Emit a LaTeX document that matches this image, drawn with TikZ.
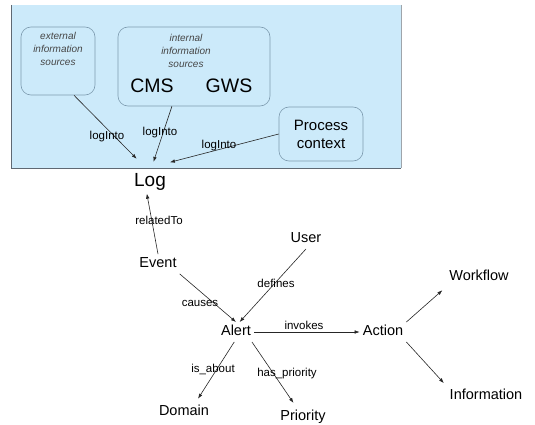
\documentclass[tikz,border=0pt]{standalone}
\usepackage{fontspec}
\setmainfont{Liberation Sans}
\usetikzlibrary{arrows.meta}
\definecolor{panelfill}{RGB}{204,234,250}
\definecolor{boxline}{RGB}{125,155,175}
\definecolor{panelframe}{RGB}{95,105,115}
\definecolor{notegray}{RGB}{70,70,70}
\tikzset{
  srcbox/.style={draw=boxline, rounded corners=10pt, line width=0.6pt, inner sep=0pt},
  term/.style={font=\fontsize{14.5}{17}\selectfont, text height=10.5pt, text depth=3pt, inner sep=3pt},
  rel/.style={font=\fontsize{11.5}{13}\selectfont, inner sep=0pt},
  srcnote/.style={font=\fontsize{10}{13}\selectfont\itshape, text=notegray, align=center, inner sep=0pt},
  link/.style={draw=black!85, line width=0.6pt, -{Latex[length=5pt,width=3.6pt]}},
}
\begin{document}
\begin{tikzpicture}[x=1pt,y=-1pt]
\useasboundingbox (0,0) rectangle (535,425);

% information sources panel
\fill[panelfill] (11,5) rectangle (401,168);
\draw[panelframe, line width=0.8pt] (11,5) -- (11,168) -- (401,168);
\draw[panelframe!60, line width=0.6pt] (401,5) -- (401,168);

\node[srcbox, minimum width=74pt, minimum height=68pt] (ext) at (58,61) {};
\node[srcnote] (extnote) at (58,48.5) {external\\information\\sources};

\node[srcbox, minimum width=152pt, minimum height=79pt] (int) at (194,66.5) {};
\node[srcnote] (intnote) at (186,50.5) {internal\\information\\sources};
\node[font=\fontsize{19.5}{22}\selectfont, inner sep=0pt] (cms) at (152,86) {CMS};
\node[font=\fontsize{19.5}{22}\selectfont, inner sep=0pt] (gws) at (229,86) {GWS};

\node[srcbox, minimum width=84pt, minimum height=54pt, align=center,
      font=\fontsize{15}{18}\selectfont] (proc) at (321,134) {Process\\context};

% concepts
\node[font=\fontsize{19}{22}\selectfont, text height=14pt, text depth=4pt, inner sep=0pt] (log) at (150,181.5) {Log};
\node[term] (event) at (158,264) {Event};
\node[term] (user) at (306,239) {User};
\node[term] (alert) at (236,332) {Alert};
\node[term] (action) at (383,332) {Action};
\node[term] (workflow) at (479,277) {Workflow};
\node[term] (info) at (486,396) {Information};
\node[term] (domain) at (184,412) {Domain};
\node[term] (priority) at (303,417) {Priority};

% relations into the log
\draw[link, shorten >=19pt] (ext.-65) -- (log.north);
\draw[link, shorten >=11pt] (int.-119) -- (log.north);
\draw[link, shorten >=4pt] (proc.west) -- ([yshift=9pt]log.north east);
\node[rel] (lab-ext) at (107,137) {logInto};
\node[rel] (lab-int) at (160,133) {logInto};
\node[rel] (lab-proc) at (219,146) {logInto};

% relations between concepts
\draw[link, shorten >=3pt] (event.north) -- (log.-112);
\draw[link] (event.south east) -- (alert.north);
\draw[link] (user.south) -- (alert.70);
\draw[link] (alert) -- (action);
\draw[link, shorten >=5pt] (action.north east) -- (workflow.south west);
\draw[link, shorten >=4pt] (action.south east) -- (info.north west);
\draw[link, shorten >=4pt] (alert.-100) -- (domain.40);
\draw[link, shorten >=5pt] (alert.-32) -- (priority.124);

\node[rel] (lab-rel) at (159,220) {relatedTo};
\node[rel] (lab-causes) at (200,303) {causes};
\node[rel] (lab-defines) at (276,283) {defines};
\node[rel] (lab-invokes) at (304,325) {invokes};
\node[rel] (lab-about) at (213,369) {is\_about};
\node[rel] (lab-prio) at (287,374) {has\_priority};
\end{tikzpicture}
\end{document}
